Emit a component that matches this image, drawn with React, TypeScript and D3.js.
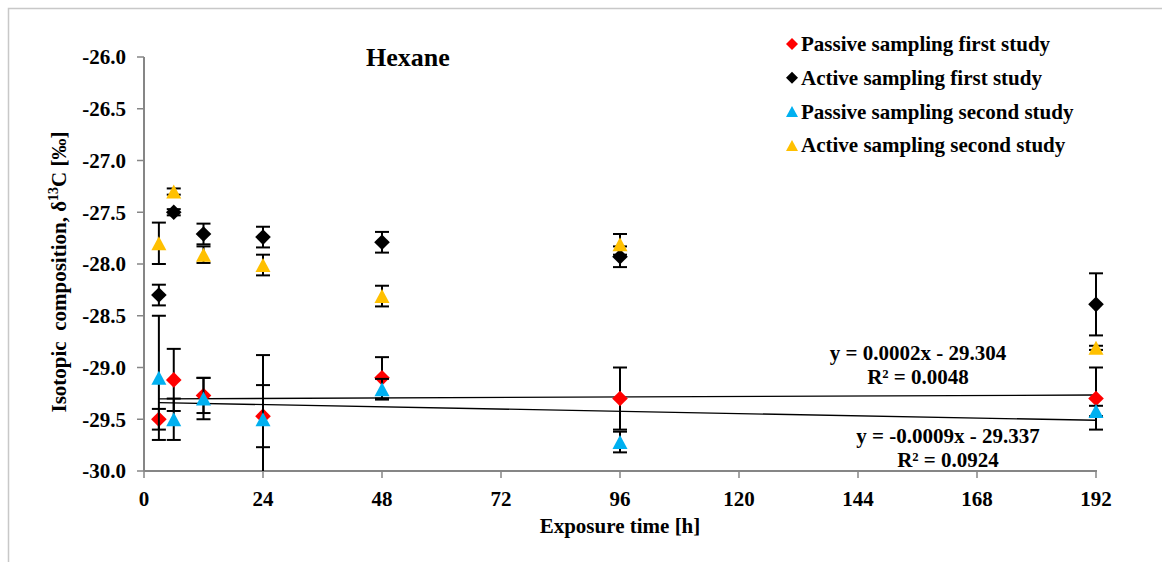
import React from "react";
import * as d3 from "d3";

const hours = [3, 6, 12, 24, 48, 96, 192];
const passiveFirst = [-29.5, -29.12, -29.27, -29.47, -29.1, -29.3, -29.3];
const passiveFirstErr = [0.1, 0.3, 0.17, 0.3, 0.2, 0.3, 0.3];
const activeFirst = [-28.3, -27.5, -27.71, -27.74, -27.79, -27.93, -28.39];
const activeFirstErr = [0.1, 0.03, 0.1, 0.1, 0.1, 0.1, 0.3];
const passiveSecond = [-29.1, -29.5, -29.3, -29.5, -29.21, -29.72, -29.42];
const passiveSecondErr = [0.6, 0.2, 0.2, 0.62, 0.1, 0.1, 0.05];
const activeSecond = [-27.8, -27.3, -27.91, -28.01, -28.31, -27.81, -28.81];
const activeSecondErr = [0.2, 0.03, 0.08, 0.1, 0.1, 0.1, 0.02];

const xTicks = [0, 24, 48, 72, 96, 120, 144, 168, 192];
const yTicks = [-26.0, -26.5, -27.0, -27.5, -28.0, -28.5, -29.0, -29.5, -30.0];

const trend1 = { slope: 0.0002, intercept: -29.304, eq: "y = 0.0002x - 29.304", r2: "R² = 0.0048" };
const trend2 = { slope: -0.0009, intercept: -29.337, eq: "y = -0.0009x - 29.337", r2: "R² = 0.0924" };

const seriesNames = [
  "Passive sampling first study",
  "Active sampling first study",
  "Passive sampling second study",
  "Active sampling second study",
];
const seriesColors = ["#FF0000", "#000000", "#00B0F0", "#FFC000"];
const seriesShapes = ["diamond", "diamond", "triangle", "triangle"];

const FONT = "'Liberation Serif', 'Times New Roman', serif";

function diamondPath(r: number) {
  const p = d3.path();
  p.moveTo(0, -r);
  p.lineTo(r, 0);
  p.lineTo(0, r);
  p.lineTo(-r, 0);
  p.closePath();
  return p.toString();
}
function trianglePath(w: number, h: number) {
  const p = d3.path();
  p.moveTo(0, -h / 2);
  p.lineTo(w / 2, h / 2);
  p.lineTo(-w / 2, h / 2);
  p.closePath();
  return p.toString();
}

export default function App() {
  const x = d3.scaleLinear().domain([0, 192]).range([144, 1096]);
  const y = d3.scaleLinear().domain([-30, -26]).range([471, 57]);

  const series = [
    { v: passiveFirst, e: passiveFirstErr },
    { v: activeFirst, e: activeFirstErr },
    { v: passiveSecond, e: passiveSecondErr },
    { v: activeSecond, e: activeSecondErr },
  ];

  const diamond = diamondPath(7.8);
  const triangle = trianglePath(15, 14);
  const diamondL = diamondPath(6);
  const triangleL = trianglePath(12, 11);

  const trendPath = (t: typeof trend1) =>
    d3
      .line<number>()
      .x((h) => x(h))
      .y((h) => y(t.slope * h + t.intercept))([hours[0], hours[hours.length - 1]]) || "";

  const capW = 7;

  return (
    <svg
      width={1162}
      height={562}
      style={{ position: "absolute", left: 0, top: 0, background: "#fff" }}
      fontFamily={FONT}
    >
      <defs>
        <clipPath id="plotClip">
          <rect x={130} y={40} width={1000} height={431} />
        </clipPath>
      </defs>
      <rect x={8.5} y={8.5} width={1200} height={600} fill="#fff" stroke="#c8c8c8" strokeWidth={1.5} />

      {/* axes */}
      <line x1={144} x2={144} y1={y(-26)} y2={y(-30)} stroke="#868686" strokeWidth={2} />
      <line x1={144} x2={x(192) + 1} y1={y(-30)} y2={y(-30)} stroke="#868686" strokeWidth={2} />
      {yTicks.map((t) => (
        <g key={"yt" + t}>
          <line x1={137} x2={144} y1={y(t)} y2={y(t)} stroke="#868686" strokeWidth={1.5} />
          <text
            x={126}
            y={y(t)}
            dy="0.35em"
            textAnchor="end"
            fontSize={21}
            fontWeight="bold"
          >
            {t.toFixed(1)}
          </text>
        </g>
      ))}
      {xTicks.map((t) => (
        <g key={"xt" + t}>
          <line x1={x(t)} x2={x(t)} y1={y(-30)} y2={y(-30) + 7} stroke="#868686" strokeWidth={1.5} />
          <text x={x(t)} y={506} textAnchor="middle" fontSize={21} fontWeight="bold">
            {t}
          </text>
        </g>
      ))}

      {/* axis titles */}
      <text x={620} y={533} textAnchor="middle" fontSize={21} fontWeight="bold">
        Exposure time [h]
      </text>
      <text
        transform="translate(66,272) rotate(-90)"
        textAnchor="middle"
        fontSize={21}
        fontWeight="bold"
        style={{ whiteSpace: "pre" }}
      >
        {"Isotopic  composition, δ"}
        <tspan fontSize={14} dy={-8}>
          13
        </tspan>
        <tspan dy={8}>{"C [‰]"}</tspan>
      </text>

      {/* title */}
      <text x={408} y={66} textAnchor="middle" fontSize={26} fontWeight="bold">
        Hexane
      </text>

      {/* trend lines */}
      <path d={trendPath(trend1)} fill="none" stroke="#000" strokeWidth={1.3} />
      <path d={trendPath(trend2)} fill="none" stroke="#000" strokeWidth={1.3} />

      {/* series */}
      {series.map((s, si) => (
        <g key={"s" + si}>
          <g clipPath="url(#plotClip)">
            {hours.map((h, i) => {
              const cx = x(h);
              const top = y(s.v[i] + s.e[i]);
              const bot = y(s.v[i] - s.e[i]);
              return (
                <g key={"e" + i} stroke="#000" strokeWidth={2}>
                  <line x1={cx} x2={cx} y1={top} y2={bot} />
                  <line x1={cx - capW} x2={cx + capW} y1={top} y2={top} />
                  <line x1={cx - capW} x2={cx + capW} y1={bot} y2={bot} />
                </g>
              );
            })}
          </g>
          {hours.map((h, i) => (
            <path
              key={"m" + i}
              d={seriesShapes[si] === "diamond" ? diamond : triangle}
              transform={`translate(${x(h)},${y(s.v[i])})`}
              fill={seriesColors[si]}
            />
          ))}
        </g>
      ))}

      {/* equations */}
      <text x={918} y={360} textAnchor="middle" fontSize={21} fontWeight="bold">
        {trend1.eq}
      </text>
      <text x={918} y={384} textAnchor="middle" fontSize={21} fontWeight="bold">
        {trend1.r2}
      </text>
      <text x={948} y={443} textAnchor="middle" fontSize={21} fontWeight="bold">
        {trend2.eq}
      </text>
      <text x={948} y={467} textAnchor="middle" fontSize={21} fontWeight="bold">
        {trend2.r2}
      </text>

      {/* legend */}
      {seriesNames.map((n, i) => {
        const ly = 44 + i * 33.8;
        return (
          <g key={"l" + i}>
            <path
              d={seriesShapes[i] === "diamond" ? diamondL : triangleL}
              transform={`translate(792,${ly})`}
              fill={seriesColors[i]}
            />
            <text x={801} y={ly} dy="0.33em" fontSize={21} fontWeight="bold">
              {n}
            </text>
          </g>
        );
      })}
    </svg>
  );
}
